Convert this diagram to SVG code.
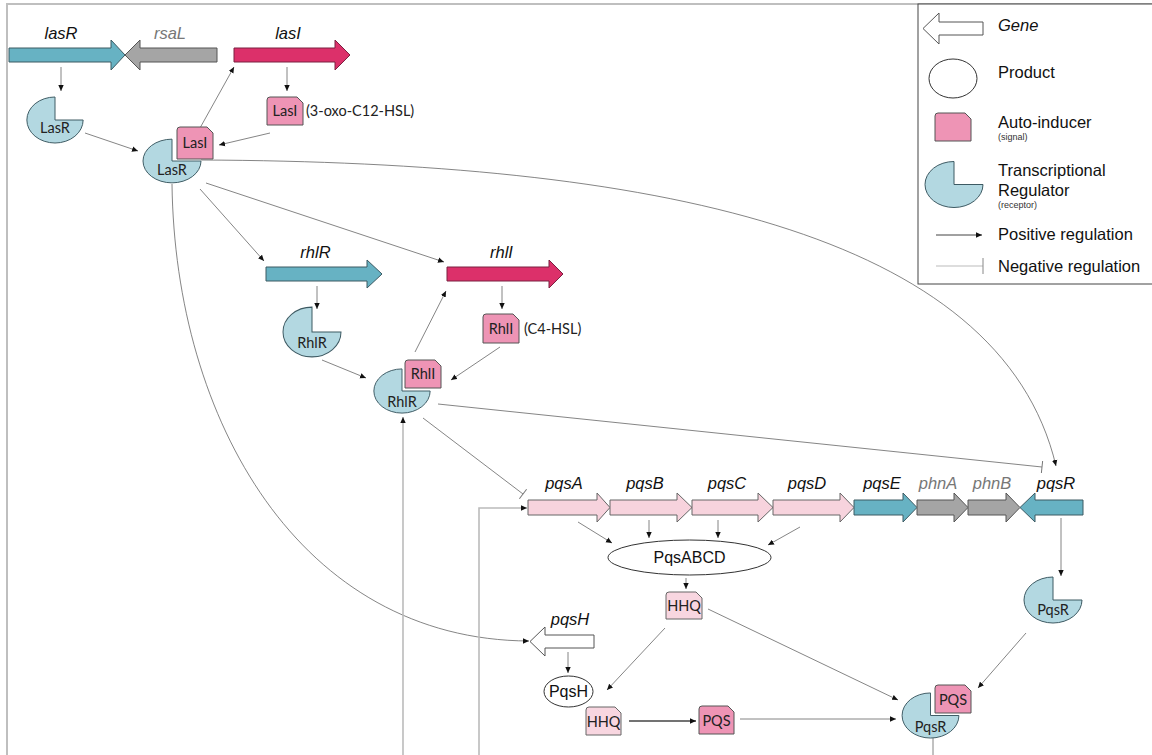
<svg xmlns="http://www.w3.org/2000/svg" width="1152" height="755" viewBox="0 0 1152 755">
<defs>
<marker id="arr" viewBox="0 0 10 10" refX="10" refY="5" markerWidth="6" markerHeight="6" markerUnits="userSpaceOnUse" orient="auto"><path d="M0,0.5 L10,5 L0,9.5 Z" fill="#111"/></marker>
<marker id="tee" viewBox="0 0 2 12" refX="1" refY="6" markerWidth="2" markerHeight="12" markerUnits="userSpaceOnUse" orient="auto"><path d="M1 0 V12" stroke="#777" stroke-width="1"/></marker>
<path id="rec" d="M0 -23 A29 23 0 1 0 29 0 L0 0 Z"/>
</defs>
<style>
.frame{fill:none;stroke:#bfbfbf;stroke-width:2}
.legbox{fill:#fff;stroke:#444;stroke-width:1}
.gb{fill:#67b2c3;stroke:#3d5a63;stroke-width:1}
.gg{fill:#a5a5a5;stroke:#555;stroke-width:1}
.gr{fill:#dc306a;stroke:#7a2040;stroke-width:1}
.gp{fill:#f7d3dd;stroke:#666;stroke-width:1}
.gw{fill:#fff;stroke:#555;stroke-width:1}
.rc{fill:#b3d8e1;stroke:#3d5a63;stroke-width:1}
.ai{fill:#ee94b5;stroke:#555;stroke-width:1}
.al{fill:#f8d6e0;stroke:#666;stroke-width:1}
.prod{fill:#fff;stroke:#333;stroke-width:1}
.gl{font-family:"Liberation Sans",Arial,sans-serif;font-style:italic;font-size:16.5px;fill:#111;text-anchor:middle}
.glg{font-family:"Liberation Sans",Arial,sans-serif;font-style:italic;font-size:16.5px;fill:#777;text-anchor:middle}
.cl{font-family:Lato,"Noto Sans",sans-serif;font-size:14.5px;fill:#222;text-anchor:middle}
.cs{font-family:Lato,"Noto Sans",sans-serif;font-size:14.5px;fill:#222}
.pt{font-family:"Liberation Sans",Arial,sans-serif;font-size:16px;fill:#111;text-anchor:middle}
.lt{font-family:"Liberation Sans",Arial,sans-serif;font-size:16.5px;fill:#111}
.ls{font-family:"Liberation Sans",Arial,sans-serif;font-size:9px;fill:#333}
.c{fill:none;stroke:#666;stroke-width:0.8}
.cb{fill:none;stroke:#444;stroke-width:1.5}
.cv{fill:none;stroke:#bbb;stroke-width:1.6}
</style>
<rect class="frame" x="7" y="4" width="1160" height="800"/>

<g id="legend">
<rect class="legbox" x="918" y="4" width="250" height="280"/>
<path class="gw" d="M983 22 L939 22 L939 13 L923 28.5 L939 44 L939 35 L983 35 Z"/>
<text class="lt" x="998" y="31" font-style="italic">Gene</text>
<ellipse class="prod" cx="953" cy="78.5" rx="24" ry="19.5"/>
<text class="lt" x="998" y="78">Product</text>
<path class="ai" d="M935 141 L935 116 Q935 113 938 113 L965 113 L971 119 L971 141 Z"/>
<text class="lt" x="998" y="128">Auto-inducer</text>
<text class="ls" x="998" y="140">(signal)</text>
<use href="#rec" class="rc" x="954" y="184.5" transform="translate(954 184.5) translate(-954 -184.5)"/>
<text class="lt" x="998" y="176">Transcriptional</text>
<text class="lt" x="998" y="196">Regulator</text>
<text class="ls" x="998" y="208">(receptor)</text>
<path class="c" stroke="#111" d="M936 235 L982 235" marker-end="url(#arr)" style="stroke:#111"/>
<text class="lt" x="998" y="240">Positive regulation</text>
<path class="cv" d="M936 266 L983 266" style="stroke-width:1.2"/>
<path d="M983 258 V274" stroke="#888" stroke-width="1"/>
<text class="lt" x="998" y="272">Negative regulation</text>
</g>

<g id="connectors">
<path class="c" d="M61 67 L61 91" marker-end="url(#arr)"/>
<path class="c" d="M85 133 L138 151" marker-end="url(#arr)"/>
<path class="c" d="M270 133 L219 145" marker-end="url(#arr)"/>
<path class="c" d="M287 67 L287 91" marker-end="url(#arr)"/>
<path class="c" d="M200 128 L234 67" marker-end="url(#arr)"/>
<path class="c" d="M201 160 C650 162 1000 230 1056 466" marker-end="url(#arr)"/>
<path class="c" d="M200 189 L264 261" marker-end="url(#arr)"/>
<path class="c" d="M206 183 L444 262" marker-end="url(#arr)"/>
<path class="c" d="M172 184 C175 420 300 640 529 641" marker-end="url(#arr)"/>
<path class="c" d="M317 286 L317 309" marker-end="url(#arr)"/>
<path class="c" d="M502 286 L502 309" marker-end="url(#arr)"/>
<path class="c" d="M322 360 L366 378" marker-end="url(#arr)"/>
<path class="c" d="M500 347 L451 380" marker-end="url(#arr)"/>
<path class="c" d="M415 352 L446 291" marker-end="url(#arr)"/>
<path class="c" d="M438 404 L1042 467" marker-end="url(#tee)"/>
<path class="c" d="M423 418 L523 494" marker-end="url(#tee)"/>
<path class="cv" d="M403 755 L403 417" marker-end="url(#arr)"/>
<path class="cv" d="M479 755 L479 508 L527 508" marker-end="url(#arr)"/>
<path class="c" d="M578 522 L612 543" marker-end="url(#arr)"/>
<path class="c" d="M649 520 L649 538" marker-end="url(#arr)"/>
<path class="c" d="M718 520 L718 538" marker-end="url(#arr)"/>
<path class="c" d="M800 527 L768 545" marker-end="url(#arr)"/>
<path class="c" d="M686 578 L686 589" marker-end="url(#arr)"/>
<path class="c" d="M708 609 L898 700" marker-end="url(#arr)"/>
<path class="c" d="M665 628 L607 690" marker-end="url(#arr)"/>
<path class="c" d="M568 652 L568 673" marker-end="url(#arr)"/>
<path class="cb" d="M629 721 L696 721" marker-end="url(#arr)"/>
<path class="c" d="M740 719 L896 719" marker-end="url(#arr)"/>
<path class="c" d="M1061 518 L1061 576" marker-end="url(#arr)"/>
<path class="c" d="M1026 633 L978 688" marker-end="url(#arr)"/>
<path class="c" d="M933 738 L933 755"/>
</g>

<g id="gene-lasR"><path class="gb" d="M9 48 L111 48 L111 40 L125 55 L111 70 L111 62 L9 62 Z"/><text class="gl" x="61" y="39">lasR</text></g>
<g id="gene-rsaL"><path class="gg" d="M217 48 L140 48 L140 40 L125 55 L140 70 L140 62 L217 62 Z"/><text class="glg" x="170" y="39">rsaL</text></g>
<g id="gene-lasI"><path class="gr" d="M234 48 L335 48 L335 40 L350 55 L335 70 L335 62 L234 62 Z"/><text class="gl" x="288" y="39">lasI</text></g>

<g id="LasR-free"><use href="#rec" class="rc" transform="translate(55 120) scale(0.97 1)"/><text class="cl" x="55" y="133">LasR</text></g>
<g id="LasI-free"><path class="ai" d="M267 125 L267 100 Q267 97 270 97 L297 97 L303 103 L303 125 Z"/><text class="cl" x="285" y="116">LasI</text><text class="cs" x="306" y="116">(3-oxo-C12-HSL)</text></g>
<g id="LasR-complex"><use href="#rec" class="rc" transform="translate(172 161) scale(1 0.95)"/><text class="cl" x="172" y="175">LasR</text><path class="ai" d="M177 159 L177 130 Q177 127 180 127 L207 127 L213 133 L213 159 Z"/><text class="cl" x="195" y="148">LasI</text></g>

<g id="gene-rhlR"><path class="gb" d="M266 267 L367 267 L367 260 L382 274 L367 288 L367 281 L266 281 Z"/><text class="gl" x="315.5" y="258">rhlR</text></g>
<g id="gene-rhlI"><path class="gr" d="M447 267 L549 267 L549 260 L563 274 L549 288 L549 281 L447 281 Z"/><text class="gl" x="501.5" y="258">rhlI</text></g>
<g id="RhlR-free"><use href="#rec" class="rc" transform="translate(312 332) scale(1 1.08)"/><text class="cl" x="312" y="348">RhlR</text></g>
<g id="RhlI-free"><path class="ai" d="M483 343 L483 317 Q483 314 486 314 L513 314 L519 320 L519 343 Z"/><text class="cl" x="501" y="334">RhlI</text><text class="cs" x="524" y="334">(C4-HSL)</text></g>
<g id="RhlR-complex"><use href="#rec" class="rc" transform="translate(402 391) scale(0.97 0.96)"/><text class="cl" x="402" y="407">RhlR</text><path class="ai" d="M405 388 L405 363 Q405 360 408 360 L435 360 L441 366 L441 388 Z"/><text class="cl" x="423" y="379">RhlI</text></g>

<g id="gene-pqsA"><path class="gp" d="M528 500 L597 500 L597 493 L610 507.5 L597 522 L597 515 L528 515 Z"/><text class="gl" x="564" y="489">pqsA</text></g>
<g id="gene-pqsB"><path class="gp" d="M610 500 L677 500 L677 493 L692 507.5 L677 522 L677 515 L610 515 Z"/><text class="gl" x="645" y="489">pqsB</text></g>
<g id="gene-pqsC"><path class="gp" d="M692 500 L758 500 L758 493 L773 507.5 L758 522 L758 515 L692 515 Z"/><text class="gl" x="727" y="489">pqsC</text></g>
<g id="gene-pqsD"><path class="gp" d="M773 500 L840 500 L840 493 L854 507.5 L840 522 L840 515 L773 515 Z"/><text class="gl" x="807" y="489">pqsD</text></g>
<g id="gene-pqsE"><path class="gb" d="M854 500 L903 500 L903 493 L917 507.5 L903 522 L903 515 L854 515 Z"/><text class="gl" x="882" y="489">pqsE</text></g>
<g id="gene-phnA"><path class="gg" d="M917 500 L954 500 L954 493 L968 507.5 L954 522 L954 515 L917 515 Z"/><text class="glg" x="938" y="489">phnA</text></g>
<g id="gene-phnB"><path class="gg" d="M968 500 L1006 500 L1006 493 L1020 507.5 L1006 522 L1006 515 L968 515 Z"/><text class="glg" x="992" y="489">phnB</text></g>
<g id="gene-pqsR"><path class="gb" d="M1083 500 L1035 500 L1035 493 L1020 507.5 L1035 522 L1035 515 L1083 515 Z"/><text class="gl" x="1056" y="489">pqsR</text></g>

<g id="PqsABCD"><ellipse class="prod" cx="689.5" cy="557.5" rx="81.5" ry="17.5"/><text class="pt" x="689.5" y="563">PqsABCD</text></g>
<g id="HHQ1"><path class="al" d="M666 619 L666 595 Q666 592 669 592 L696 592 L702 598 L702 619 Z"/><text class="cl" x="684" y="611">HHQ</text></g>
<g id="gene-pqsH"><path class="gw" d="M594 635 L545 635 L545 627 L530 641.5 L545 656 L545 648 L594 648 Z"/><text class="gl" x="570" y="625">pqsH</text></g>
<g id="PqsH"><ellipse class="prod" cx="568.5" cy="691.5" rx="24.5" ry="15.5"/><text class="pt" x="568.5" y="697">PqsH</text></g>
<g id="HHQ2"><path class="al" d="M586 735 L586 710 Q586 707 589 707 L615 707 L621 713 L621 735 Z"/><text class="cl" x="603.5" y="727">HHQ</text></g>
<g id="PQS"><path class="ai" d="M699 734 L699 709 Q699 706 702 706 L728 706 L734 712 L734 734 Z"/><text class="cl" x="716.5" y="726">PQS</text></g>
<g id="PqsR-free"><use href="#rec" class="rc" transform="translate(1053 600)"/><text class="cl" x="1053" y="615">PqsR</text></g>
<g id="PqsR-complex"><use href="#rec" class="rc" transform="translate(930.5 715.5) scale(0.98 0.98)"/><text class="cl" x="930.5" y="732">PqsR</text><path class="ai" d="M935 713 L935 688 Q935 685 938 685 L965 685 L971 691 L971 713 Z"/><text class="cl" x="953" y="705">PQS</text></g>
</svg>
